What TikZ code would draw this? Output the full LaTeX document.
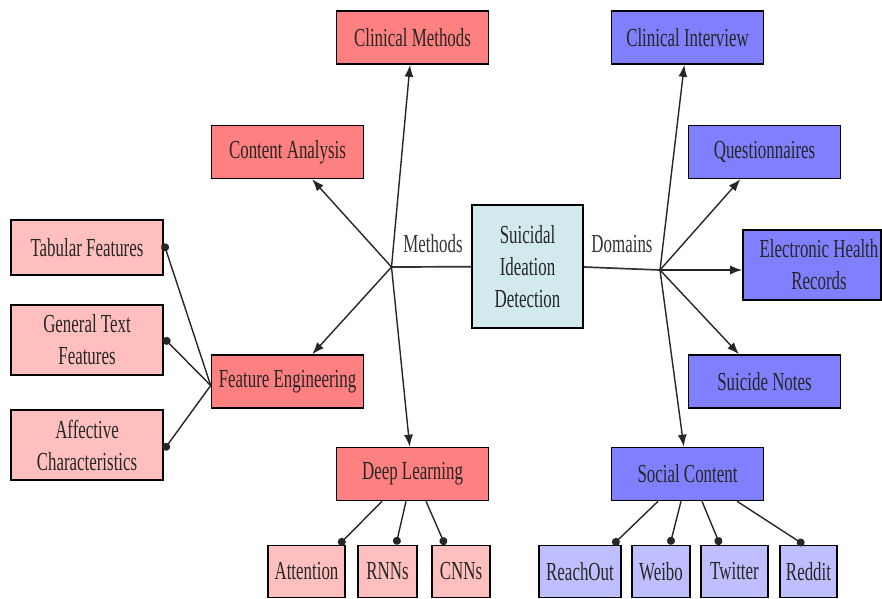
\documentclass[tikz,border=0pt]{standalone}
\usepackage{fontspec}
\setmainfont{Liberation Serif}[FakeStretch=0.65]
\usetikzlibrary{arrows.meta,calc}
\definecolor{mred}{HTML}{FF8080}
\definecolor{lred}{HTML}{FFBFBF}
\definecolor{mblue}{HTML}{8080FF}
\definecolor{lblue}{HTML}{BFBFFF}
\definecolor{cblue}{HTML}{D2E9EE}
\begin{document}
\begin{tikzpicture}[x=1pt,y=-1pt,
  box/.style={draw=black, line width=1.6pt, inner sep=0pt, align=center,
    font=\fontsize{26}{32}\selectfont, text=black!85},
  meth/.style={box, fill=mred, minimum width=152pt, minimum height=53pt},
  mleaf/.style={box, fill=lred, minimum height=52pt},
  dom/.style={box, fill=mblue, minimum width=152pt, minimum height=53pt},
  dleaf/.style={box, fill=lblue, minimum height=52pt},
  ctr/.style={box, fill=cblue},
  arr/.style={line width=1.4pt, draw=black!85, -{Latex[length=12pt,width=9pt]}},
  dotl/.style={line width=1.4pt, draw=black!85, -{Circle[length=8pt]}},
  hubl/.style={line width=1.7pt, draw=black!80},
  lbl/.style={font=\fontsize{26}{32}\selectfont, text=black!80, inner sep=0pt}
]
\useasboundingbox (0,0) rectangle (882,598);

% centre
\node[ctr, minimum width=111pt, minimum height=123pt] (sid) at (527.5,266.5) {Suicidal\\Ideation\\Detection};
\coordinate (mhub) at (391.5,267);
\coordinate (dhub) at (660,270);
\draw[hubl] (sid) -- (mhub);
\draw[hubl] (sid.east |- 0,267) -- (dhub);
\node[lbl] (mlab) at (433,244) {Methods};
\node[lbl] (dlab) at (622,244) {Domains};

% methods
\node[meth] (cm) at (412.5,37.5) {Clinical Methods};
\node[meth] (ca) at (287.5,152) {Content Analysis};
\node[meth] (fe) at (287.5,381.5) {Feature Engineering};
\node[meth] (dl) at (412.5,474) {Deep Learning};
\draw[arr] (mhub) -- (cm);
\draw[arr] (mhub) -- (ca);
\draw[arr] (mhub) -- (fe);
\draw[arr] (mhub) -- (dl);

% feature leaves
\node[mleaf, minimum width=152pt, minimum height=55pt] (tf) at (87,247.5) {Tabular Features};
\node[mleaf, minimum width=152pt, minimum height=70pt] (gt) at (87,340) {General Text\\Features};
\node[mleaf, minimum width=152pt, minimum height=70pt] (ac) at (87,445) {Affective\\Characteristics};
\draw[dotl] ([yshift=-4pt]fe.west) -- ([yshift=4pt]tf.east);
\draw[dotl] ([yshift=-4pt]fe.west) -- ([yshift=2pt]gt.east);
\draw[dotl] ([yshift=-4pt]fe.west) -- ([yshift=-5pt]ac.east);

% deep learning leaves
\node[mleaf, minimum width=77pt] (att) at (306.5,571.5) {Attention};
\node[mleaf, minimum width=59pt] (rnn) at (387.5,571.5) {RNNs};
\node[mleaf, minimum width=58pt] (cnn) at (461,571.5) {CNNs};
\draw[dotl] ([xshift=-30.5pt]dl.south) -- ([xshift=32.5pt]att.north);
\draw[dotl] ([xshift=-6.5pt]dl.south) -- ([xshift=8.5pt]rnn.north);
\draw[dotl] ([xshift=13.5pt]dl.south) -- ([xshift=-16pt]cnn.north);

% domains
\node[dom] (ci) at (687.5,37.5) {Clinical Interview};
\node[dom] (qu) at (764.5,152) {Questionnaires};
\node[dom, minimum width=138pt, minimum height=70pt] (ehr) at (812,265) {\hspace*{14pt}Electronic Health\\\hspace*{14pt}Records};
\node[dom] (sn) at (764.5,381.5) {Suicide Notes};
\node[dom] (sc) at (687.5,474) {Social Content};
\draw[arr] (dhub) -- (ci);
\draw[arr] (dhub) -- (qu);
\draw[arr] (dhub) -- (ehr.west |- dhub);
\draw[arr] (dhub) -- (sn);
\draw[arr] (dhub) -- (sc);

% social leaves
\node[dleaf, minimum width=82pt] (ro) at (580,571.5) {ReachOut};
\node[dleaf, minimum width=58pt] (wb) at (661,571.5) {Weibo};
\node[dleaf, minimum width=67pt] (tw) at (734.5,571.5) {Twitter};
\node[dleaf, minimum width=57pt] (rd) at (808.5,571.5) {Reddit};
\draw[dotl] ([xshift=-29.5pt]sc.south) -- ([xshift=33pt]ro.north);
\draw[dotl] ([xshift=-6.5pt]sc.south) -- ([xshift=9pt]wb.north);
\draw[dotl] ([xshift=14.5pt]sc.south) -- ([xshift=-14.5pt]tw.north);
\draw[dotl] ([xshift=49.5pt]sc.south) -- ([xshift=-4.5pt]rd.north);
\end{tikzpicture}
\end{document}
